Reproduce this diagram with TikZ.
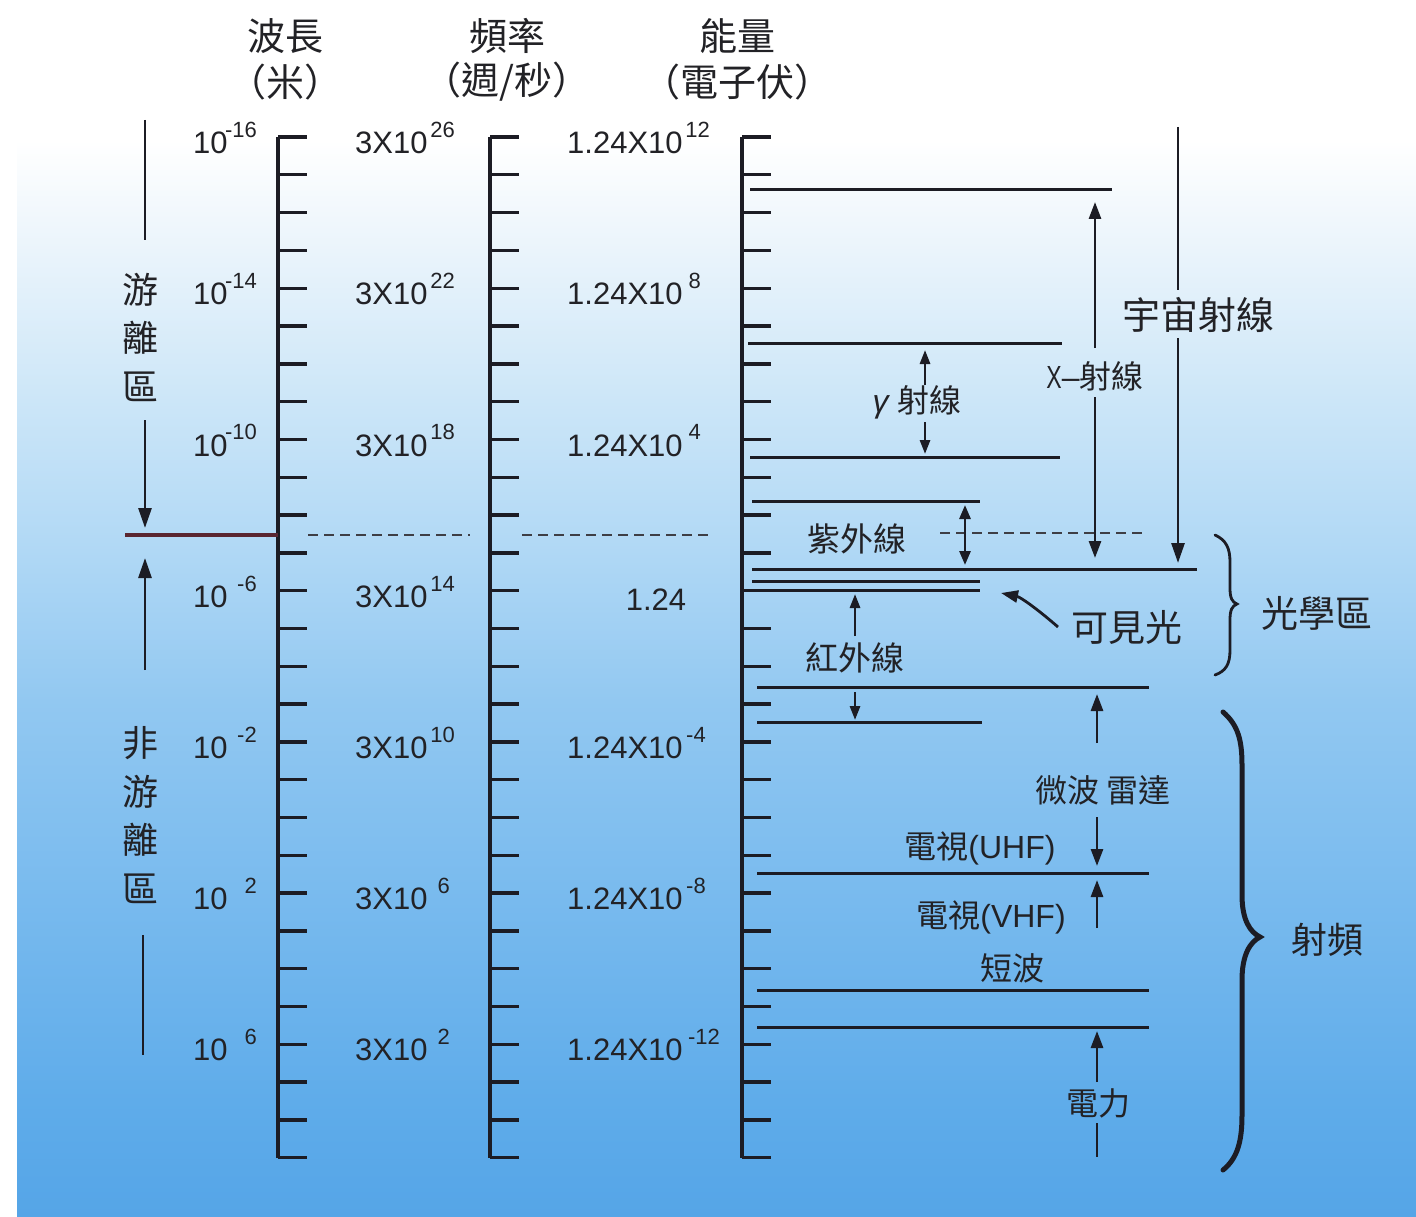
\documentclass[tikz,border=0pt]{standalone}
\usepackage{fontspec}
\setmainfont{Liberation Sans}
\newfontfamily\cjk{Noto Sans CJK TC}
\usetikzlibrary{arrows.meta}
\definecolor{ink}{HTML}{1C1C24}
\definecolor{txt}{HTML}{222226}
\definecolor{redline}{HTML}{5A2630}
\definecolor{bgA}{HTML}{EAF4FB}
\definecolor{bgB}{HTML}{CCE6F8}
\definecolor{bgC}{HTML}{B0D8F5}
\definecolor{bgD}{HTML}{92C8F1}
\definecolor{bgE}{HTML}{78BAEE}
\definecolor{bgF}{HTML}{5FACEA}
\definecolor{bgG}{HTML}{55A5E7}
\tikzset{
  hdr/.style={font=\cjk\fontsize{38}{40}\selectfont, inner sep=0pt, text=txt},
  num/.style={font=\fontsize{31}{33}\selectfont, inner sep=0pt, text=txt},
  supx/.style={font=\fontsize{22}{24}\selectfont, inner sep=0pt, text=txt},
  lab/.style={font=\cjk\fontsize{33}{35}\selectfont, inner sep=0pt, text=txt},
  mixlab/.style={font=\fontsize{32}{34}\selectfont, inner sep=0pt, text=txt},
  biglab/.style={font=\cjk\fontsize{37}{39}\selectfont, inner sep=0pt, text=txt},
  vert/.style={font=\cjk\fontsize{36}{48.5}\selectfont, inner sep=0pt, text=txt, align=center},
  axisline/.style={draw=ink, line width=3.4pt},
  hline/.style={draw=ink, line width=3pt},
  dashline/.style={draw=ink!85, line width=2pt, dash pattern=on 10pt off 6pt},
  bigarr/.style={draw=ink, line width=2.8pt, -{Triangle[length=20pt,width=13pt]}},
  midarr/.style={draw=ink, line width=2.8pt, -{Triangle[length=17pt,width=12pt]}},
  smallarr/.style={draw=ink, line width=2.8pt, -{Triangle[length=14pt,width=10pt]}},
  dblarr/.style={draw=ink, line width=2.8pt, {Triangle[length=14pt,width=11pt]}-{Triangle[length=14pt,width=11pt]}},
  plainline/.style={draw=ink, line width=2.8pt},
}
\begin{document}
\begin{tikzpicture}[x=1pt,y=-1pt]
\useasboundingbox (0,0) rectangle (1416,1217);
% background
\fill[white] (0,0) rectangle (1416,1217);
\foreach \ya/\yb/\ca/\cb in {140/251/white/bgA, 250/401/bgA/bgB, 400/551/bgB/bgC, 550/701/bgC/bgD, 700/901/bgD/bgE, 900/1101/bgE/bgF, 1100/1217/bgF/bgG}
  \shade[top color=\ca,bottom color=\cb] (17,\ya) rectangle (1416,\yb);

% headers
\node[hdr] (hwl) at (285,36) {波長};
\node[hdr] (hwlu) at (285,82) {（米）};
\node[hdr] (hfq) at (507,36) {頻率};
\node[hdr] (hfqu) at (507,82) {（週/秒）};
\node[hdr] (hen) at (737,36) {能量};
\node[hdr] (henu) at (737,82) {（電子伏）};

% axes
\foreach \ax in {278,490,742} {
  \draw[axisline] (\ax,137) -- (\ax,1158);
  \foreach \k in {0,...,27}
    \draw[axisline] (\ax,{137+37.8*\k}) -- ++(29,0);
}

% wavelength labels
\foreach \k/\e [count=\i] in {0/-16,4/-14,8/-10,12/-6,16/-2,20/2,24/6} {
  \node[num,anchor=west] (wl\i) at (193,{137+37.8*\k+6}) {10};
  \node[supx,anchor=east] (wle\i) at (257,{137+37.8*\k-7}) {\e};
}
% frequency labels
\foreach \k/\e/\xe [count=\i] in {0/26/455,4/22/455,8/18/455,12/14/455,16/10/455,20/6/450,24/2/450} {
  \node[num,anchor=west] (fq\i) at (355,{137+37.8*\k+6}) {3X10};
  \node[supx,anchor=east] (fqe\i) at (\xe,{137+37.8*\k-7}) {\e};
}
% energy labels
\foreach \k/\e/\xe [count=\i] in {0/12/710,4/8/701,8/4/701,16/-4/706,20/-8/706,24/-12/720} {
  \node[num,anchor=west] (en\i) at (567,{137+37.8*\k+6}) {1.24X10};
  \node[supx,anchor=east] (ene\i) at (\xe,{137+37.8*\k-7}) {\e};
}
\node[num] (enone) at (656,600) {1.24};

% left side: ionizing / non-ionizing
\node[vert] (ion) at (140,337) {游\\離\\區};
\node[vert] (nonion) at (140,815) {非\\游\\離\\區};
\coordinate (ionA) at (145,120);
\coordinate (ionB) at (145,240);
\coordinate (ionC) at (145,420);
\coordinate (ionD) at (145,528);
\coordinate (nonA) at (145,670);
\coordinate (nonB) at (145,558);
\coordinate (nonC) at (143,935);
\coordinate (nonD) at (143,1055);
\draw[plainline] (ionA) -- (ionB);
\draw[bigarr] (ionC) -- (ionD);
\draw[bigarr] (nonA) -- (nonB);
\draw[plainline] (nonC) -- (nonD);
\coordinate (redL) at (125,535);
\coordinate (redR) at (278,535);
\draw[draw=redline, line width=4.5pt] (redL) -- (redR);

% dashed boundary
\coordinate (dA1) at (308,535); \coordinate (dA2) at (470,535);
\coordinate (dB1) at (522,535); \coordinate (dB2) at (712,535);
\coordinate (dC1) at (940,533); \coordinate (dC2) at (1145,533);
\draw[dashline] (dA1) -- (dA2);
\draw[dashline] (dB1) -- (dB2);
\draw[dashline] (dC1) -- (dC2);

% horizontal band lines on energy scale
\foreach \xa/\xb/\y in {750/1112/190, 748/1062/343, 750/1060/457, 752/980/501, 752/1197/569, 752/980/581, 742/980/590, 757/1149/687, 757/982/722, 757/1149/873, 757/1149/990, 757/1149/1027}
  \draw[hline] (\xa,\y) -- (\xb,\y);

% cosmic rays
\node[font=\cjk\fontsize{38}{40}\selectfont, inner sep=0pt, text=txt] (cosmic) at (1198,315) {宇宙射線};
\coordinate (cosA) at (1178,127);
\coordinate (cosB) at (1178,290);
\coordinate (cosC) at (1178,338);
\coordinate (cosD) at (1178,563);
\draw[plainline] (cosA) -- (cosB);
\draw[bigarr] (cosC) -- (cosD);

% X-rays
\node[mixlab] (xray) at (1095,376) {\scalebox{0.72}[1]{X}–{\cjk 射線}};
\coordinate (xA) at (1095,348);
\coordinate (xB) at (1095,202);
\coordinate (xC) at (1095,397);
\coordinate (xD) at (1095,558);
\draw[midarr] (xA) -- (xB);
\draw[midarr] (xC) -- (xD);

% gamma rays
\node[mixlab] (gamma) at (917,402) {{\itshape γ} {\cjk 射線}};
\coordinate (gA) at (925,385);
\coordinate (gB) at (925,350);
\coordinate (gC) at (925,422);
\coordinate (gD) at (925,454);
\draw[smallarr] (gA) -- (gB);
\draw[smallarr] (gC) -- (gD);

% ultraviolet
\node[lab] (uv) at (857,539) {紫外線};
\coordinate (uvA) at (965,505);
\coordinate (uvB) at (965,565);
\draw[dblarr] (uvA) -- (uvB);

% infrared
\node[lab] (ir) at (855,658) {紅外線};
\coordinate (irA) at (855,636);
\coordinate (irB) at (855,594);
\coordinate (irC) at (855,692);
\coordinate (irD) at (855,720);
\draw[smallarr] (irA) -- (irB);
\draw[smallarr] (irC) -- (irD);

% visible light
\node[biglab] (vis) at (1127,627) {可見光};
\coordinate (visA) at (1058,627);
\coordinate (visB) at (1001,593);
\draw[midarr] (visA) .. controls (1035,607) and (1020,597) .. (visB);

% optical region brace
\coordinate (obT) at (1215,535);
\coordinate (obB) at (1215,675);
\draw[draw=ink, line width=2.8pt, line cap=round] (obT) .. controls (1226,540) and (1230,548) .. (1230,562) -- (1230,588) .. controls (1230,598) and (1232,602) .. (1237,604) .. controls (1232,606) and (1230,610) .. (1230,620) -- (1230,650) .. controls (1230,664) and (1226,671) .. (obB);
\node[biglab] (optical) at (1317,613) {光學區};

% radio frequency brace
\coordinate (rbT) at (1223,712);
\coordinate (rbB) at (1223,1170);
\draw[draw=ink, line width=5pt, line cap=round] (rbT) .. controls (1238,725) and (1242,740) .. (1242,765) -- (1242,895) .. controls (1242,920) and (1250,932) .. (1260,937) .. controls (1250,942) and (1242,955) .. (1242,980) -- (1242,1115) .. controls (1242,1140) and (1238,1158) .. (rbB);
\node[font=\cjk\fontsize{36}{38}\selectfont, inner sep=0pt, text=txt] (rf) at (1327,940) {射頻};

% microwave / radar
\node[font=\cjk\fontsize{32}{34}\selectfont, inner sep=0pt, text=txt] (mw) at (1103,790) {微波 雷達};
\coordinate (mwA) at (1097,743);
\coordinate (mwB) at (1097,694);
\coordinate (mwC) at (1097,817);
\coordinate (mwD) at (1097,866);
\draw[midarr] (mwA) -- (mwB);
\draw[midarr] (mwC) -- (mwD);

% TV
\node[mixlab] (uhf) at (980,848) {{\cjk 電視}(UHF)};
\node[mixlab] (vhf) at (991,917) {{\cjk 電視}(VHF)};
\coordinate (vhA) at (1097,928);
\coordinate (vhB) at (1097,880);
\draw[midarr] (vhA) -- (vhB);

% short wave
\node[font=\cjk\fontsize{32}{34}\selectfont, inner sep=0pt, text=txt] (sw) at (1012,968) {短波};

% electric power
\node[font=\cjk\fontsize{32}{34}\selectfont, inner sep=0pt, text=txt] (power) at (1098,1103) {電力};
\coordinate (pwA) at (1097,1082);
\coordinate (pwB) at (1097,1031);
\coordinate (pwC) at (1097,1123);
\coordinate (pwD) at (1097,1157);
\draw[midarr] (pwA) -- (pwB);
\draw[plainline] (pwC) -- (pwD);
\end{tikzpicture}
\end{document}
